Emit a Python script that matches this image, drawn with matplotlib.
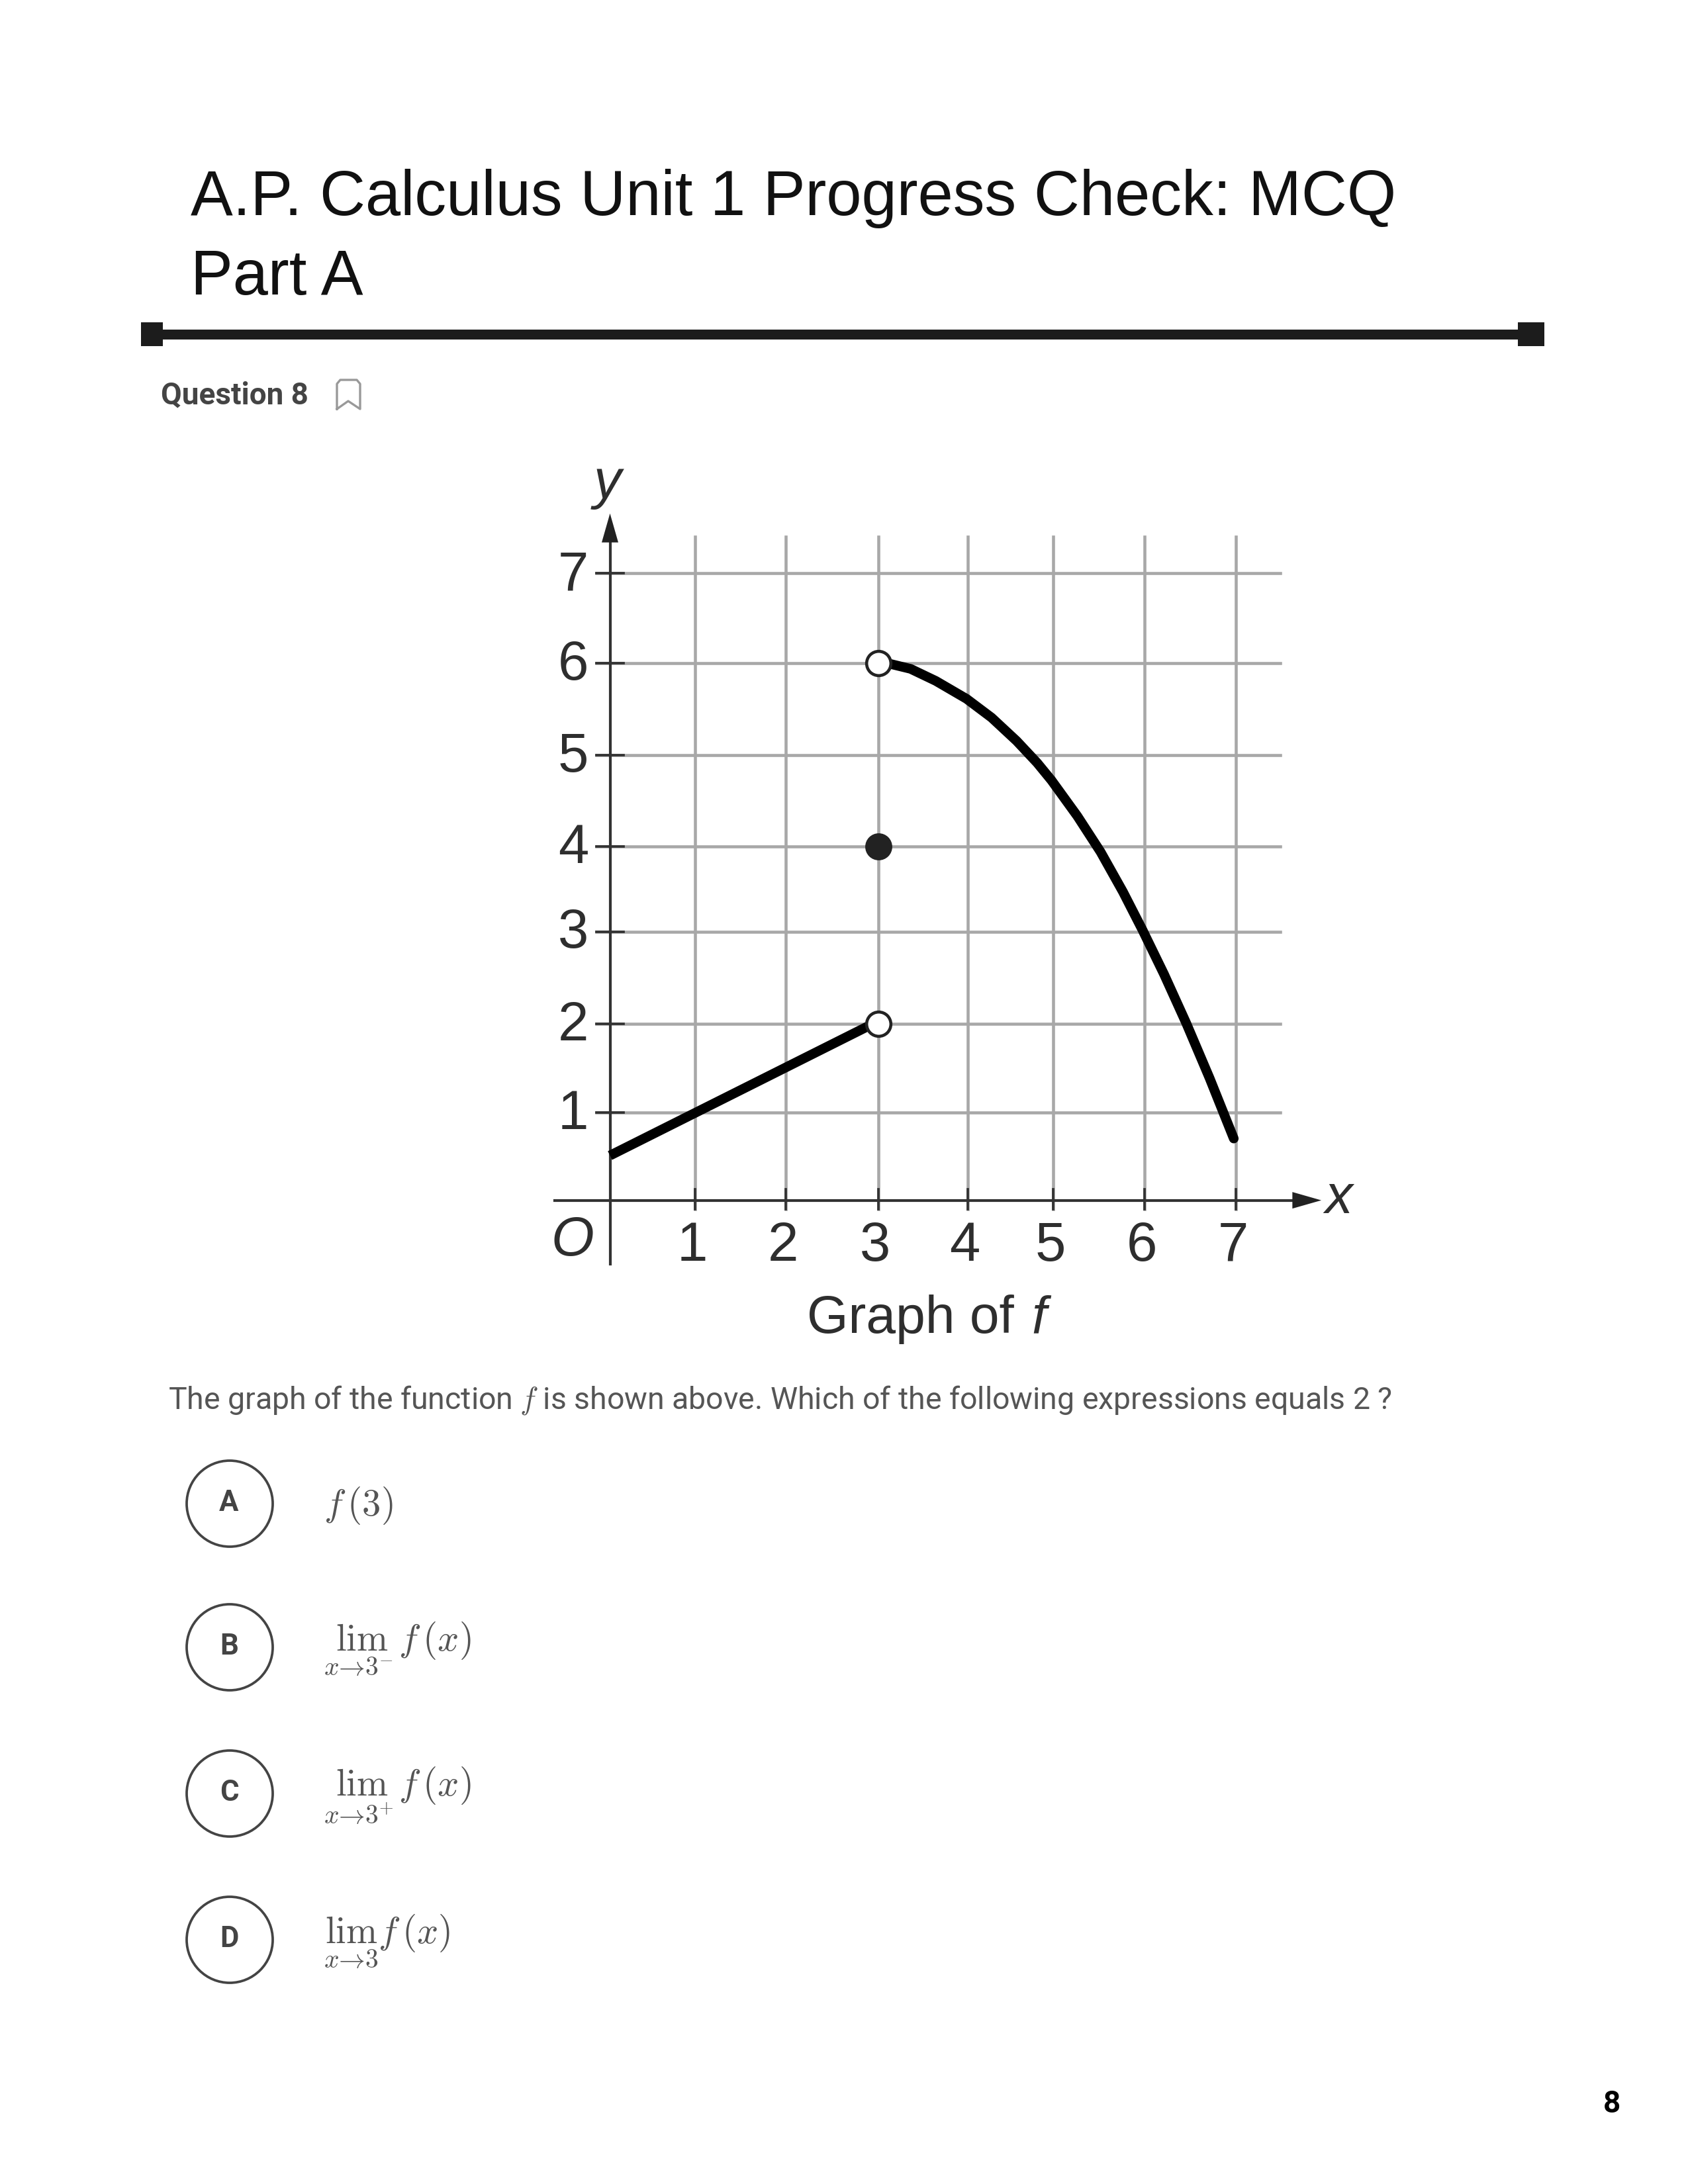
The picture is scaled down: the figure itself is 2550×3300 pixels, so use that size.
# recreate the worksheet page with the graph of f
import matplotlib
matplotlib.use("Agg")
import matplotlib.pyplot as plt
from matplotlib.lines import Line2D
from matplotlib.patches import Circle

# chart values
x_grid = [0.95, 1.97, 3.0, 4.0, 4.96, 5.98, 7.0]
y_grid = [0.98, 1.97, 3.0, 3.95, 4.97, 6.0, 7.0]
x_labels = ["1", "2", "3", "4", "5", "6", "7"]
y_labels = ["1", "2", "3", "4", "5", "6", "7"]
left_x = [0.0, 2.9]
left_y = [0.5, 1.95]
right_x = [3.136, 3.363, 3.646, 3.99, 4.27, 4.55, 4.78, 4.94, 5.23, 5.49, 5.74, 5.96, 6.2, 6.45, 6.71, 6.98]
right_y = [5.99, 5.935, 5.80, 5.60, 5.39, 5.13, 4.885, 4.69, 4.29, 3.89, 3.445, 3.016, 2.524, 1.974, 1.363, 0.69]
open_x = [3.0, 3.0]
open_y = [6.0, 1.97]
closed_x = [3.0]
closed_y = [3.95]

title_lines = ["A.P. Calculus Unit 1 Progress Check: MCQ", "Part A"]
question = "Question 8"
caption = "The graph of the function $f$ is shown above. Which of the following expressions equals 2 ?"
option_letters = ["A", "B", "C", "D"]
option_texts = [r"$f\,(3)$", r"$\lim_{x\to 3^-} f\,(x)$", r"$\lim_{x\to 3^+} f\,(x)$", r"$\lim_{x\to 3} f\,(x)$"]

W, H = 2550, 3300
plt.rcParams["mathtext.fontset"] = "cm"
fig = plt.figure(figsize=(8.5, 11), dpi=300, facecolor="white")


# page helpers, everything on the page is given in pixels
def fx(px):
    return px / W


def fy(py):
    return 1 - py / H


def page_text(px, py, s, **kw):
    return fig.text(fx(px), fy(py), s, **kw)


# title and rule
page_text(288, 325, title_lines[0], family="Liberation Sans", fontsize=22.95, color="#111111", va="baseline")
page_text(288, 445, title_lines[1], family="Liberation Sans", fontsize=22.95, color="#111111", va="baseline")
fig.patches.append(plt.Rectangle((fx(245), fy(513)), fx(2050), 15 / H, transform=fig.transFigure, color="#1c1c1c", lw=0))
fig.patches.append(plt.Rectangle((fx(213), fy(523)), fx(33), 36 / H, transform=fig.transFigure, color="#1c1c1c", lw=0))
fig.patches.append(plt.Rectangle((fx(2293), fy(523)), fx(40), 36 / H, transform=fig.transFigure, color="#1c1c1c", lw=0))

# question label and bookmark icon
page_text(243, 611, question, family="Roboto", weight="bold", fontsize=11, color="#444444", va="baseline")
icon_x = [509, 509, 514, 539, 544, 544, 526, 509]
icon_y = [618, 580, 574, 574, 580, 618, 606, 618]
fig.add_artist(Line2D([fx(v) for v in icon_x], [fy(v) for v in icon_y], color="#999999", lw=0.8,
    transform=fig.transFigure))

# graph axes, one data unit is about 135 pixels
ax = fig.add_axes([fx(759.5), fy(1976), 1350 / W, (1976 - 690.6) / H])
ax.set_xlim(-1.2, 8.8)
ax.set_ylim(-1.2, 8.3)
ax.axis("off")

grid_color = "#a8a8a8"
for v in x_grid:
    ax.plot([v, v], [-0.1, 7.41], color=grid_color, lw=1.1, zorder=1)
    ax.plot([v, v], [-0.1, 0.12], color="#333333", lw=0.9, zorder=2)
for v in y_grid:
    ax.plot([-0.15, 7.5], [v, v], color=grid_color, lw=1.1, zorder=1)
    ax.plot([-0.15, 0.15], [v, v], color="#333333", lw=0.9, zorder=2)

# axes lines and arrow heads
ax.plot([-0.62, 7.75], [0, 0], color="#333333", lw=1.0, zorder=2)
ax.plot([0, 0], [-0.71, 7.45], color="#333333", lw=1.0, zorder=2)
arrow_style = dict(arrowstyle="-|>,head_length=1.05,head_width=0.3", color="#222222", lw=0, shrinkA=0, shrinkB=0)
ax.annotate("", xy=(7.96, 0), xytext=(7.5, 0), annotation_clip=False, arrowprops=arrow_style)
ax.annotate("", xy=(0, 7.67), xytext=(0, 7.2), annotation_clip=False, arrowprops=arrow_style)

# the function
ax.plot(left_x, left_y, color="black", lw=3.5, solid_capstyle="butt", zorder=4)
ax.plot(right_x, right_y, color="black", lw=3.5, solid_capstyle="round", solid_joinstyle="round", zorder=4)
ax.plot(open_x, open_y, "o", mfc="white", mec="#222222", mew=1.1, ms=8.8, ls="none", zorder=5)
ax.plot(closed_x, closed_y, "o", color="#222222", ms=8.8, ls="none", zorder=5)

# graph labels
graph_font = dict(family="Liberation Sans", fontsize=20, color="#2e2e2e", ha="center", va="center")
for v, s in zip(x_grid, x_labels):
    ax.text(v - 0.03, -0.51, s, **graph_font)
for v, s in zip(y_grid, y_labels):
    ax.text(-0.41, v - 0.02, s, **graph_font)
ax.text(-0.42, -0.45, "O", style="italic", **graph_font)
ax.text(8.15, 0.02, "x", style="italic", **graph_font)
ax.text(-0.03, 8.0, "y", style="italic", **graph_font)
label_font = dict(graph_font, fontsize=19.3)
ax.text(3.36, -1.33, "Graph of", clip_on=False, **label_font)
ax.text(4.8, -1.33, "f", style="italic", clip_on=False, **label_font)

# question text
page_text(254, 2129, caption, family="Roboto", fontsize=11.13, color="#555555", va="baseline")

# answer options
option_py = [2272, 2489, 2710, 2931]
for py, letter, s in zip(option_py, option_letters, option_texts):
    fig.add_artist(Circle((347, H - py), 65, transform=None, fc="none", ec="#444444", lw=0.9))
    page_text(346, py - 1, letter, family="Roboto", weight="bold", fontsize=10.5, color="#444444", ha="center", va="center")
    page_text(489, py + 3, s, fontsize=13.6, color="#555555", va="center")

# page number
page_text(2435, 3179, "8", family="Roboto", weight="bold", fontsize=11, color="black", ha="center", va="center")

fig.savefig("out.png", dpi=300, facecolor="white")
